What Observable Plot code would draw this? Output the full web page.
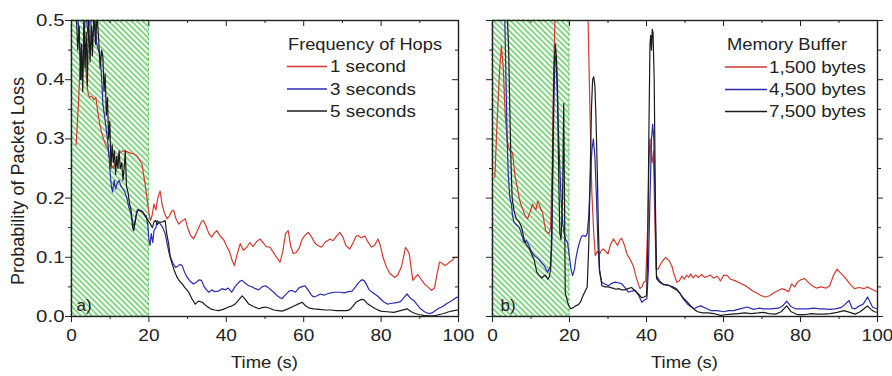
<!DOCTYPE html>
<html><head><meta charset="utf-8">
<script src="https://cdn.jsdelivr.net/npm/d3@7"></script>
<script src="https://cdn.jsdelivr.net/npm/@observablehq/plot@0.6"></script>
<style>
body{margin:0;background:#fff;}
#wrap{position:relative;width:892px;height:376px;overflow:hidden;background:#fff;}
#wrap svg{position:absolute;top:0;}
</style></head><body><div id="wrap"></div>
<script>
// ---- labels / ticks ----
const hopNames = ["1 second", "3 seconds", "5 seconds"];
const bufferNames = ["1,500 bytes", "4,500 bytes", "7,500 bytes"];
const seriesColors = ["#d23a30", "#2a2ab2", "#1c1c1c"];
const xTicks = [0, 20, 40, 60, 80, 100];
const xMinor = [10, 30, 50, 70, 90];
const yTicks = [0, 0.1, 0.2, 0.3, 0.4, 0.5];
const yMinor = [0.05, 0.15, 0.25, 0.35, 0.45];
const hatchRegion = [{x1: 0, x2: 20, y1: 0, y2: 0.5}];

// ---- panel a: Frequency of Hops ----
const hop1 = [[1.2,0.29],[1.8,0.36],[2.2,0.42],[2.6,0.40],[3.0,0.43],[3.4,0.44],[3.8,0.41],[4.2,0.38],[4.6,0.37],[5.2,0.372],[5.8,0.366],[6.3,0.37],[6.8,0.345],[7.3,0.325],[7.8,0.31],[8.3,0.30],[8.8,0.29],[9.3,0.285],[9.8,0.27],[10.3,0.255],[10.8,0.25],[11.3,0.262],[11.8,0.27],[12.5,0.276],[13.2,0.28],[13.8,0.279],[14.5,0.278],[15.2,0.276],[16,0.275],[16.8,0.272],[17.5,0.265],[18.2,0.258],[18.6,0.24],[19.0,0.225],[19.5,0.2],[20.0,0.175],[20.4,0.162],[20.8,0.17],[21.3,0.19],[21.8,0.18],[22.3,0.2],[22.9,0.212],[23.4,0.19],[24,0.175],[24.7,0.165],[25.3,0.17],[25.9,0.178],[26.4,0.179],[27,0.165],[27.7,0.156],[28.3,0.16],[28.8,0.162],[29.4,0.165],[30,0.15],[30.7,0.138],[31.5,0.131],[32.2,0.14],[33,0.152],[33.6,0.16],[34.1,0.162],[34.8,0.152],[35.5,0.14],[36.2,0.134],[37,0.142],[37.6,0.145],[38.4,0.136],[39.3,0.13],[40,0.12],[40.8,0.11],[41.5,0.095],[42.1,0.086],[42.8,0.105],[43.6,0.123],[44.4,0.112],[45.3,0.117],[46.1,0.125],[46.9,0.118],[47.8,0.126],[48.7,0.131],[49.5,0.125],[50.3,0.118],[51.3,0.117],[52.2,0.108],[53,0.1],[53.9,0.092],[54.6,0.11],[55.3,0.14],[56,0.145],[56.6,0.12],[57.3,0.106],[58,0.108],[58.8,0.115],[59.6,0.13],[60.3,0.137],[61.2,0.142],[62,0.135],[62.8,0.125],[63.6,0.12],[64.6,0.117],[65.5,0.125],[66.8,0.131],[67.6,0.128],[68.4,0.135],[69.3,0.142],[70.1,0.135],[70.9,0.12],[71.9,0.114],[72.8,0.125],[73.5,0.135],[74,0.137],[74.9,0.133],[75.8,0.136],[76.6,0.126],[77.5,0.117],[78.3,0.12],[79.2,0.131],[79.8,0.12],[80.5,0.1],[81.3,0.085],[82.2,0.073],[83.5,0.066],[84.3,0.07],[85.2,0.083],[85.8,0.1],[86.3,0.117],[86.8,0.112],[87.3,0.105],[87.8,0.08],[88.2,0.061],[88.8,0.066],[89.5,0.071],[90.3,0.063],[91.2,0.055],[92.1,0.05],[93,0.044],[93.8,0.048],[94.4,0.07],[95.1,0.092],[95.8,0.09],[96.4,0.086],[97,0.088],[97.7,0.092],[98.4,0.095],[99,0.1],[99.7,0.1]];
const hop3 = [[1.5,0.52],[2,0.47],[2.4,0.43],[2.8,0.40],[3.2,0.46],[3.6,0.52],[4.2,0.48],[4.8,0.51],[5.4,0.47],[6,0.51],[6.5,0.46],[7.0,0.45],[7.4,0.44],[7.8,0.40],[8.1,0.36],[8.5,0.34],[8.9,0.32],[9.3,0.30],[9.7,0.27],[10,0.24],[10.3,0.22],[10.6,0.21],[11,0.23],[11.4,0.215],[11.8,0.225],[12.3,0.23],[12.8,0.22],[13.3,0.215],[13.8,0.21],[14.3,0.20],[14.8,0.185],[15.3,0.175],[15.8,0.16],[16.2,0.15],[16.6,0.165],[17,0.18],[17.6,0.18],[18.2,0.178],[18.8,0.172],[19.3,0.17],[19.7,0.155],[20,0.13],[20.3,0.12],[20.6,0.14],[21,0.125],[21.3,0.145],[21.8,0.15],[22.1,0.162],[22.6,0.158],[23,0.156],[23.6,0.15],[24.2,0.14],[24.8,0.12],[25.3,0.105],[25.6,0.1],[26.2,0.09],[26.9,0.083],[27.5,0.085],[28,0.088],[28.6,0.086],[29.2,0.075],[29.9,0.066],[30.6,0.06],[31.5,0.055],[32.3,0.058],[33,0.062],[33.6,0.061],[34.3,0.05],[35,0.044],[35.5,0.041],[36.2,0.045],[37,0.042],[38,0.043],[38.9,0.047],[39.8,0.045],[40.5,0.048],[41.4,0.041],[42.2,0.05],[43,0.056],[43.6,0.06],[44.1,0.061],[44.9,0.056],[45.8,0.052],[46.7,0.05],[47.5,0.047],[48.4,0.045],[49.2,0.05],[50.1,0.052],[51,0.048],[51.7,0.044],[52.3,0.041],[53,0.036],[53.8,0.032],[54.4,0.03],[55.2,0.036],[56.2,0.043],[57,0.044],[57.9,0.041],[58.7,0.048],[59.4,0.05],[60.3,0.052],[61.2,0.044],[62,0.036],[62.6,0.033],[63.5,0.035],[64.3,0.038],[65.2,0.036],[66,0.038],[67,0.04],[68.2,0.041],[69.5,0.041],[70.5,0.04],[71.5,0.042],[72.5,0.043],[73.4,0.05],[74.3,0.058],[75,0.062],[75.6,0.061],[76.3,0.053],[76.9,0.045],[77.9,0.04],[79,0.035],[79.8,0.03],[80.6,0.025],[81.6,0.021],[82.5,0.022],[83.5,0.023],[84.3,0.024],[85,0.025],[85.9,0.032],[86.7,0.038],[87.2,0.034],[87.7,0.03],[88.5,0.027],[89.3,0.02],[90.2,0.013],[91.2,0.008],[92.3,0.005],[93.2,0.006],[94,0.01],[94.9,0.014],[95.6,0.016],[96.2,0.018],[97,0.022],[97.8,0.025],[98.5,0.028],[99.2,0.031],[99.8,0.033]];
const hop5 = [[1.2,0.52],[1.6,0.45],[2.0,0.49],[2.3,0.40],[2.6,0.46],[2.9,0.38],[3.2,0.51],[3.5,0.42],[3.8,0.48],[4.1,0.39],[4.4,0.51],[4.8,0.43],[5.1,0.49],[5.4,0.44],[5.8,0.51],[6.2,0.46],[6.6,0.51],[7.0,0.47],[7.4,0.42],[7.8,0.45],[8.1,0.44],[8.4,0.38],[8.7,0.41],[9.0,0.34],[9.3,0.37],[9.6,0.30],[9.9,0.33],[10.2,0.25],[10.5,0.29],[10.8,0.26],[11.1,0.28],[11.4,0.24],[11.7,0.27],[12,0.25],[12.3,0.28],[12.6,0.25],[13,0.26],[13.3,0.23],[13.6,0.25],[13.9,0.28],[14.2,0.22],[14.6,0.21],[15,0.19],[15.4,0.18],[15.8,0.15],[16.1,0.145],[16.4,0.16],[16.8,0.175],[17.3,0.18],[17.9,0.178],[18.5,0.176],[19,0.17],[19.5,0.165],[20,0.16],[20.4,0.156],[20.9,0.15],[21.3,0.16],[21.7,0.162],[22.2,0.155],[22.6,0.16],[23,0.159],[23.6,0.16],[24.2,0.162],[24.6,0.14],[25.1,0.123],[25.5,0.1],[26,0.089],[26.6,0.077],[27.3,0.066],[27.9,0.06],[28.6,0.055],[29.4,0.048],[30.3,0.041],[31.1,0.03],[32,0.021],[32.8,0.026],[33.8,0.024],[34.8,0.018],[35.9,0.013],[37,0.011],[38,0.01],[39.2,0.012],[40.6,0.016],[41.5,0.018],[42.3,0.021],[43.2,0.028],[44.1,0.035],[45,0.028],[45.8,0.021],[47,0.017],[48.4,0.013],[49.3,0.015],[50.1,0.016],[51.2,0.014],[52.3,0.011],[53.4,0.01],[54.4,0.009],[55.6,0.012],[57,0.016],[58.2,0.02],[59.6,0.024],[60.5,0.018],[61.5,0.014],[62.6,0.013],[64,0.012],[65.5,0.011],[66.9,0.011],[68.5,0.01],[70,0.01],[71.2,0.01],[72,0.012],[72.8,0.018],[73.5,0.024],[74.3,0.027],[75,0.029],[75.6,0.028],[76.4,0.022],[77.3,0.018],[78.5,0.013],[79.9,0.009],[81.5,0.008],[83.3,0.007],[85,0.01],[86.7,0.013],[87.8,0.008],[88.8,0.005],[90,0.003],[91,0.002],[92.3,0.001],[93.6,0.001],[94.9,0.003],[96.2,0.005],[97.5,0.008],[98.8,0.01],[99.8,0.011]];

// ---- panel b: Memory Buffer ----
const buf1500 = [[0.6,0.235],[1.2,0.33],[1.8,0.41],[2.3,0.457],[2.8,0.42],[3.3,0.34],[3.9,0.294],[4.5,0.28],[5.2,0.277],[5.8,0.24],[6.5,0.215],[7.1,0.195],[7.8,0.182],[8.5,0.17],[9.1,0.165],[9.7,0.175],[10.4,0.19],[10.8,0.185],[11.3,0.18],[11.7,0.195],[12.1,0.19],[12.6,0.18],[13,0.176],[13.4,0.16],[13.8,0.145],[14.3,0.142],[14.7,0.14],[15.1,0.15],[15.5,0.25],[15.9,0.42],[16.3,0.52],[17,0.6],[24,0.6],[24.8,0.51],[25.3,0.35],[25.8,0.21],[26.3,0.14],[26.7,0.103],[27.2,0.11],[27.8,0.105],[28.3,0.112],[28.8,0.114],[29.4,0.11],[30,0.106],[30.7,0.122],[31.4,0.131],[32,0.125],[32.5,0.12],[33.1,0.13],[33.6,0.132],[34.3,0.12],[34.9,0.106],[35.7,0.097],[36.6,0.085],[37.4,0.064],[38.3,0.047],[38.8,0.05],[39.3,0.058],[39.8,0.06],[40.3,0.15],[40.6,0.25],[40.9,0.3],[41.2,0.27],[41.5,0.26],[41.8,0.28],[42.1,0.18],[42.5,0.08],[43,0.08],[43.7,0.089],[44.3,0.095],[45,0.1],[45.9,0.094],[46.6,0.085],[47.2,0.07],[47.9,0.058],[48.5,0.06],[49.2,0.068],[49.8,0.063],[50.4,0.07],[51,0.066],[51.5,0.072],[52.1,0.065],[52.8,0.07],[53.5,0.066],[54.3,0.071],[55.1,0.066],[55.9,0.068],[56.6,0.07],[57.4,0.065],[58.4,0.068],[59.2,0.06],[60.1,0.07],[61,0.069],[61.8,0.063],[62.8,0.061],[63.8,0.058],[64.8,0.055],[66.2,0.05],[67.4,0.044],[68.5,0.04],[69.6,0.036],[70.8,0.033],[72,0.035],[73.1,0.04],[74.2,0.044],[75.2,0.047],[76.1,0.045],[76.9,0.042],[77.7,0.055],[78.5,0.05],[79.2,0.058],[80.1,0.062],[81.1,0.064],[82,0.058],[83,0.052],[84.1,0.048],[85.3,0.05],[86.7,0.048],[87.6,0.052],[88.6,0.07],[89.5,0.08],[90.2,0.075],[91,0.07],[91.8,0.064],[92.8,0.055],[94,0.047],[95.2,0.049],[96.5,0.047],[97.3,0.05],[98.3,0.047],[99.2,0.044],[99.9,0.042]];
const buf4500 = [[0.6,0.6],[2.8,0.6],[3.2,0.5],[3.5,0.4],[3.8,0.3],[4.1,0.24],[4.5,0.2],[4.9,0.19],[5.2,0.17],[5.6,0.159],[6.2,0.155],[6.9,0.151],[7.5,0.14],[8.2,0.125],[8.8,0.128],[9.5,0.12],[10.1,0.11],[10.8,0.103],[11.4,0.1],[12.1,0.096],[12.8,0.09],[13.4,0.086],[13.9,0.08],[14.3,0.075],[14.7,0.08],[15.1,0.086],[15.4,0.12],[15.7,0.25],[16,0.38],[16.3,0.44],[16.6,0.43],[16.9,0.36],[17.2,0.3],[17.5,0.25],[17.8,0.2],[18.2,0.16],[18.6,0.14],[19.0,0.13],[19.5,0.125],[20,0.1],[20.4,0.08],[20.8,0.069],[21.3,0.08],[21.7,0.1],[22.1,0.113],[22.6,0.125],[23.1,0.135],[23.6,0.137],[24.2,0.135],[24.6,0.14],[25.0,0.17],[25.4,0.23],[25.8,0.28],[26.2,0.3],[26.6,0.27],[27.0,0.2],[27.4,0.12],[27.8,0.075],[28.4,0.058],[29.2,0.055],[30.1,0.052],[31,0.056],[31.8,0.058],[32.7,0.057],[33.6,0.055],[34.5,0.048],[35.3,0.041],[36.2,0.043],[37.1,0.044],[38,0.035],[38.8,0.024],[39.5,0.028],[40.1,0.03],[40.5,0.08],[40.9,0.2],[41.3,0.3],[41.6,0.325],[41.9,0.3],[42.2,0.2],[42.6,0.069],[43.4,0.06],[44.3,0.055],[45.1,0.053],[46,0.052],[46.9,0.05],[47.8,0.047],[48.6,0.04],[49.5,0.03],[50.5,0.022],[51.4,0.017],[52.4,0.013],[53.2,0.016],[54.1,0.018],[55.4,0.014],[56.7,0.01],[58.4,0.01],[60.1,0.008],[61.3,0.01],[62.6,0.01],[64.3,0.013],[66.1,0.016],[67.8,0.012],[69.2,0.014],[70.4,0.013],[72.3,0.013],[74.3,0.014],[75.4,0.018],[76.4,0.026],[77.5,0.017],[78.7,0.013],[80.2,0.013],[81.7,0.013],[83.5,0.014],[85,0.013],[86,0.013],[87.5,0.012],[89,0.013],[90.5,0.015],[91.5,0.02],[92.6,0.027],[93.4,0.014],[94.2,0.013],[95.3,0.018],[96.3,0.021],[97.4,0.033],[98.1,0.024],[98.7,0.016],[99.4,0.014],[100,0.013]];
const buf7500 = [[0.8,0.6],[3.5,0.6],[3.9,0.5],[4.2,0.45],[4.5,0.35],[4.8,0.26],[5.1,0.2],[5.6,0.178],[6.2,0.165],[6.9,0.16],[7.6,0.15],[8.2,0.13],[8.9,0.12],[9.5,0.115],[10.2,0.105],[10.8,0.096],[11.5,0.075],[12.1,0.07],[12.8,0.065],[13.3,0.068],[13.7,0.07],[14.1,0.066],[14.4,0.063],[14.8,0.068],[15.1,0.08],[15.4,0.15],[15.7,0.3],[16,0.42],[16.3,0.46],[16.6,0.44],[16.9,0.38],[17.1,0.28],[17.3,0.2],[17.5,0.14],[17.8,0.13],[18.2,0.2],[18.5,0.36],[18.7,0.2],[18.9,0.04],[19.3,0.03],[19.7,0.02],[20.3,0.013],[21,0.015],[21.6,0.018],[22.3,0.02],[22.9,0.025],[23.5,0.035],[24,0.042],[24.6,0.05],[25,0.12],[25.4,0.25],[25.7,0.35],[26,0.4],[26.3,0.405],[26.6,0.39],[26.9,0.33],[27.2,0.25],[27.5,0.15],[27.8,0.08],[28.4,0.052],[29.2,0.05],[30.1,0.05],[31.2,0.048],[32.1,0.046],[32.7,0.047],[33.6,0.045],[34.4,0.045],[35.2,0.047],[36.1,0.049],[37.1,0.043],[37.9,0.038],[38.7,0.032],[39.4,0.033],[40,0.035],[40.3,0.1],[40.6,0.3],[40.9,0.46],[41.1,0.475],[41.3,0.45],[41.5,0.485],[41.7,0.48],[42,0.4],[42.3,0.2],[42.6,0.064],[43.4,0.058],[44.3,0.054],[45.1,0.054],[46,0.052],[46.9,0.048],[47.8,0.045],[48.6,0.04],[49.5,0.032],[50.5,0.025],[51.5,0.018],[52.4,0.012],[53.3,0.008],[54.5,0.006],[56,0.006],[57.5,0.005],[59.2,0.002],[60.5,0.003],[62,0.004],[63.8,0.005],[65.5,0.006],[67.2,0.005],[69,0.006],[70.4,0.007],[71.8,0.005],[73.5,0.004],[75,0.008],[76.4,0.018],[77.6,0.008],[79.3,0.003],[81,0.003],[82.8,0.005],[84.5,0.004],[86,0.004],[87.8,0.005],[89.5,0.007],[91.3,0.01],[92.8,0.007],[94.2,0.004],[95.5,0.008],[96.5,0.013],[97.4,0.018],[98.3,0.012],[99.2,0.008],[100,0.007]];

const FONT = "'Liberation Sans', Arial, Helvetica, sans-serif";

function stretchText(nodes, factor) {
  nodes.forEach(n => {
    const len = n.getComputedTextLength();
    if (len > 0) {
      n.setAttribute("textLength", (len * factor).toFixed(1));
      n.setAttribute("lengthAdjust", "spacingAndGlyphs");
    }
  });
}

function panel({series, names, legendTitle, tag, left, width, ml, mr, showYLabels, rightOut, legend}) {
  const H = 376, mt = 20, mb = 60;
  const innerW = width - ml - mr, innerH = H - mt - mb;
  const data = series.flatMap((s, i) => s.map(([t, v]) => ({t, v, k: names[i]})));
  const marks = [
    Plot.rect(hatchRegion, {x1: "x1", x2: "x2", y1: "y1", y2: "y2", fill: `url(#hatch-${tag})`, stroke: "#55c255", strokeDasharray: "3,2", strokeWidth: 1}),
    Plot.line(data, {x: "t", y: "v", z: "k", stroke: "k", strokeWidth: 1.2, clip: true}),
    Plot.frame({stroke: "#222", strokeWidth: 1.4}),
    Plot.axisX(xTicks, {tickSize: 6, tickPadding: 6, tickFormat: d => String(d), label: null}),
    Plot.axisX(xMinor, {tickSize: 3, tickFormat: () => "", label: null}),
    Plot.tickX(xTicks, {x: d => d, insetBottom: innerH - 6, stroke: "#222"}),
    Plot.tickX(xMinor, {x: d => d, insetBottom: innerH - 3, stroke: "#222"}),
    Plot.axisY(yTicks, {tickSize: 6, tickPadding: 1, tickFormat: showYLabels ? d3.format(".1f") : () => "", label: null}),
    Plot.axisY(yMinor, {tickSize: 3, tickFormat: () => "", label: null}),
    Plot.text([tag === "a" ? "a)" : "b)"], {frameAnchor: "bottom-left", dx: tag === "a" ? 5 : 8, dy: -6, textAnchor: "start", lineAnchor: "bottom", fontSize: 17, fill: "#222"})
  ];
  if (rightOut) {
    marks.push(Plot.axisY(yTicks, {anchor: "right", tickSize: 5, tickFormat: () => "", label: null}));
    marks.push(Plot.axisY(yMinor, {anchor: "right", tickSize: 3, tickFormat: () => "", label: null}));
  } else {
    marks.push(Plot.tickY(yTicks, {y: d => d, insetLeft: innerW - 6, stroke: "#222"}));
    marks.push(Plot.tickY(yMinor, {y: d => d, insetLeft: innerW - 3, stroke: "#222"}));
  }
  const svg = Plot.plot({
    width, height: H, marginLeft: ml, marginRight: mr, marginTop: mt, marginBottom: mb,
    x: {domain: [0, 100]},
    y: {domain: [0, 0.5]},
    color: {domain: names, range: seriesColors},
    style: {fontFamily: FONT, fontSize: "17px", color: "#222", background: "none", overflow: "visible"},
    marks
  });
  svg.style.left = left + "px";
  document.getElementById("wrap").appendChild(svg);
  const s = d3.select(svg);
  // hatch pattern
  const defs = s.insert("defs", ":first-child");
  const p = defs.append("pattern").attr("id", `hatch-${tag}`).attr("patternUnits", "userSpaceOnUse")
    .attr("width", 4).attr("height", 4).attr("patternTransform", "rotate(45)");
  p.append("rect").attr("width", 4).attr("height", 4).attr("fill", "#ffffff");
  p.append("line").attr("x1", 0).attr("y1", 2).attr("x2", 4).attr("y2", 2)
    .attr("stroke", "#5fc85f").attr("stroke-width", 1.5);
  // stretch tick labels horizontally like the reference
  stretchText(svg.querySelectorAll('g[aria-label="x-axis tick label"] text'), 1.12);
  stretchText(svg.querySelectorAll('g[aria-label="y-axis tick label"] text'), 1.2);
  // axis titles and legend
  const g = s.append("g").attr("font-family", FONT).attr("fill", "#222").attr("text-anchor", "start");
  const cx = ml + innerW / 2;
  g.append("text").attr("x", cx).attr("y", 368).attr("text-anchor", "middle").attr("font-size", 16.5)
    .attr("textLength", 67).attr("lengthAdjust", "spacingAndGlyphs").text("Time (s)");
  if (showYLabels) {
    g.append("text").attr("transform", "translate(24,181) rotate(-90)").attr("text-anchor", "middle")
      .attr("font-size", 18).attr("textLength", 208).attr("lengthAdjust", "spacingAndGlyphs")
      .text("Probability of Packet Loss");
  }
  g.append("text").attr("x", legend.x0).attr("y", legend.titleY).attr("font-size", 16)
    .attr("textLength", legend.titleLen).attr("lengthAdjust", "spacingAndGlyphs").text(legendTitle);
  names.forEach((nm, i) => {
    const yb = legend.rowY[i];
    g.append("line").attr("x1", legend.lx1).attr("x2", legend.lx2).attr("y1", yb - 5.5).attr("y2", yb - 5.5)
      .attr("stroke", seriesColors[i]).attr("stroke-width", 1.4);
    g.append("text").attr("x", legend.tx).attr("y", yb).attr("font-size", 16)
      .attr("textLength", legend.itemLen[i]).attr("lengthAdjust", "spacingAndGlyphs").text(nm);
  });
}

panel({series: [hop1, hop3, hop5], names: hopNames, legendTitle: "Frequency of Hops", tag: "a",
  left: 0, width: 470, ml: 71, mr: 12, showYLabels: true, rightOut: false,
  legend: {x0: 288, titleY: 50, titleLen: 154, rowY: [72, 94.5, 116.5], lx1: 287, lx2: 327, tx: 330, itemLen: [76, 86, 86]}});
panel({series: [buf1500, buf4500, buf7500], names: bufferNames, legendTitle: "Memory Buffer", tag: "b",
  left: 470, width: 422, ml: 22, mr: 15, showYLabels: false, rightOut: true,
  legend: {x0: 257, titleY: 50, titleLen: 120, rowY: [72.5, 95, 117], lx1: 255, lx2: 297, tx: 299, itemLen: [97, 97, 97]}});
</script></body></html>
